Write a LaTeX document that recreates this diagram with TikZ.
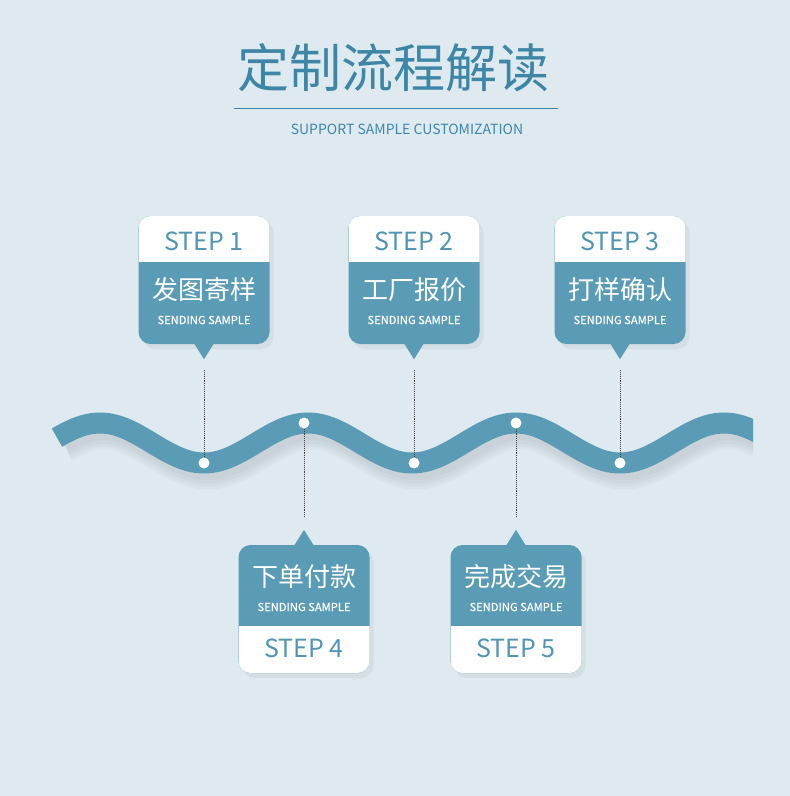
\documentclass[tikz,border=0pt]{standalone}
\usepackage{fontspec}
\setmainfont{Noto Sans CJK SC}
\newfontfamily\semibold[FakeBold=0.6]{Noto Sans CJK SC}
\usepackage{xcolor}
\usepackage{tikz}
\usetikzlibrary{positioning, shadows}
\definecolor{bgblue}{RGB}{222,234,240}
\definecolor{wavecol}{RGB}{90,155,182}
\definecolor{titlecol}{RGB}{62,134,166}
\definecolor{stepcol}{RGB}{80,149,178}
\tikzstyle{leader} = [densely dotted, line width=0.9pt, black!75]

\begin{document}
\begin{tikzpicture}[
    x=1pt, y=-1pt,
    upcard/.style={rectangle, rounded corners=12pt, fill=wavecol, inner sep=0pt, minimum width=131pt, minimum height=128pt,
        drop shadow={opacity=0.1, shadow xshift=4pt, shadow yshift=-5pt},
        path picture={\fill[white, sharp corners] (path picture bounding box.north west) rectangle ([yshift=-46pt]path picture bounding box.north east);}},
    downcard/.style={rectangle, rounded corners=12pt, fill=wavecol, inner sep=0pt, minimum width=131pt, minimum height=128pt,
        drop shadow={opacity=0.1, shadow xshift=4pt, shadow yshift=-5pt},
        path picture={\fill[white, sharp corners] (path picture bounding box.south west) rectangle ([yshift=47pt]path picture bounding box.south east);}},
    steplabel/.style={text=stepcol, font=\fontsize{25}{25}\selectfont, inner sep=0pt},
    cnlabel/.style={text=white, font=\fontsize{26}{26}\selectfont, inner sep=0pt},
    enlabel/.style={text=white, font=\semibold\fontsize{11.2}{11.2}\selectfont, inner sep=0pt},
    dot/.style={circle, fill=white, inner sep=0pt, minimum size=11pt}
]
    % Background and frame
    \useasboundingbox (0,0) rectangle (790,796);
    \fill[bgblue] (0,0) rectangle (790,796);

    % Title
    \node[text=titlecol, font=\fontsize{52}{52}\selectfont, inner sep=0pt] (title) at (393,68) {定制流程解读};
    \coordinate (ruleL) at (234,108);
    \coordinate (ruleR) at (558,108);
    \draw[titlecol, line width=1pt] (ruleL) -- (ruleR);
    \node[text=titlecol, font=\fontsize{14}{14}\selectfont, inner sep=0pt] (subtitle) at (407,129) {SUPPORT SAMPLE CUSTOMIZATION};

    % Wave with soft shadow
    \begin{scope}
        \clip (0,300) rectangle (753,560);
        \foreach \w/\dy in {33/10, 29/9, 25/8, 22/6} {
            \draw[black, opacity=0.025, line width=\w pt] plot[domain=60:770, samples=160] ({\x+4}, {443+\dy-20*cos((\x-100)/208*360)});
        }
        \draw[wavecol, line width=21pt] plot[domain=57:770, samples=160] (\x, {443-20*cos((\x-100)/208*360)});
    \end{scope}

    % Dots on the wave
    \node[dot] (dot1) at (204,463) {};
    \node[dot] (dot4) at (304,423) {};
    \node[dot] (dot2) at (414,463) {};
    \node[dot] (dot5) at (516,423) {};
    \node[dot] (dot3) at (620,463) {};

    % Upper cards
    \node[upcard] (card1) at (204,280) {};
    \node[upcard] (card2) at (414,280) {};
    \node[upcard] (card3) at (620,280) {};
    \fill[wavecol] ([xshift=-10pt,yshift=1pt]card1.south) -- ([yshift=-15pt]card1.south) -- ([xshift=10pt,yshift=1pt]card1.south) -- cycle;
    \fill[wavecol] ([xshift=-10pt,yshift=1pt]card2.south) -- ([yshift=-15pt]card2.south) -- ([xshift=10pt,yshift=1pt]card2.south) -- cycle;
    \fill[wavecol] ([xshift=-10pt,yshift=1pt]card3.south) -- ([yshift=-15pt]card3.south) -- ([xshift=10pt,yshift=1pt]card3.south) -- cycle;

    \node[steplabel] (step1) at (204,241) {STEP 1};
    \node[cnlabel] (name1) at (204,290) {发图寄样};
    \node[enlabel] (sub1) at (204,320) {SENDING SAMPLE};
    \node[steplabel] (step2) at (414,241) {STEP 2};
    \node[cnlabel] (name2) at (414,290) {工厂报价};
    \node[enlabel] (sub2) at (414,320) {SENDING SAMPLE};
    \node[steplabel] (step3) at (620,241) {STEP 3};
    \node[cnlabel] (name3) at (620,290) {打样确认};
    \node[enlabel] (sub3) at (620,320) {SENDING SAMPLE};

    % Lower cards
    \node[downcard] (card4) at (304,609) {};
    \node[downcard] (card5) at (516,609) {};
    \fill[wavecol] ([xshift=-10pt,yshift=-1pt]card4.north) -- ([yshift=15pt]card4.north) -- ([xshift=10pt,yshift=-1pt]card4.north) -- cycle;
    \fill[wavecol] ([xshift=-10pt,yshift=-1pt]card5.north) -- ([yshift=15pt]card5.north) -- ([xshift=10pt,yshift=-1pt]card5.north) -- cycle;

    \node[cnlabel] (name4) at (304,577) {下单付款};
    \node[enlabel] (sub4) at (304,607) {SENDING SAMPLE};
    \node[steplabel] (step4) at (304,648) {STEP 4};
    \node[cnlabel] (name5) at (516,577) {完成交易};
    \node[enlabel] (sub5) at (516,607) {SENDING SAMPLE};
    \node[steplabel] (step5) at (516,648) {STEP 5};

    % Dotted leaders between cards and wave
    \coordinate (tip1) at (204,370);
    \coordinate (tip2) at (414,370);
    \coordinate (tip3) at (620,370);
    \coordinate (tip4) at (304,518);
    \coordinate (tip5) at (516,518);
    \draw[leader] (tip1) -- (dot1);
    \draw[leader] (tip2) -- (dot2);
    \draw[leader] (tip3) -- (dot3);
    \draw[leader] (dot4) -- (tip4);
    \draw[leader] (dot5) -- (tip5);

\end{tikzpicture}
\end{document}
